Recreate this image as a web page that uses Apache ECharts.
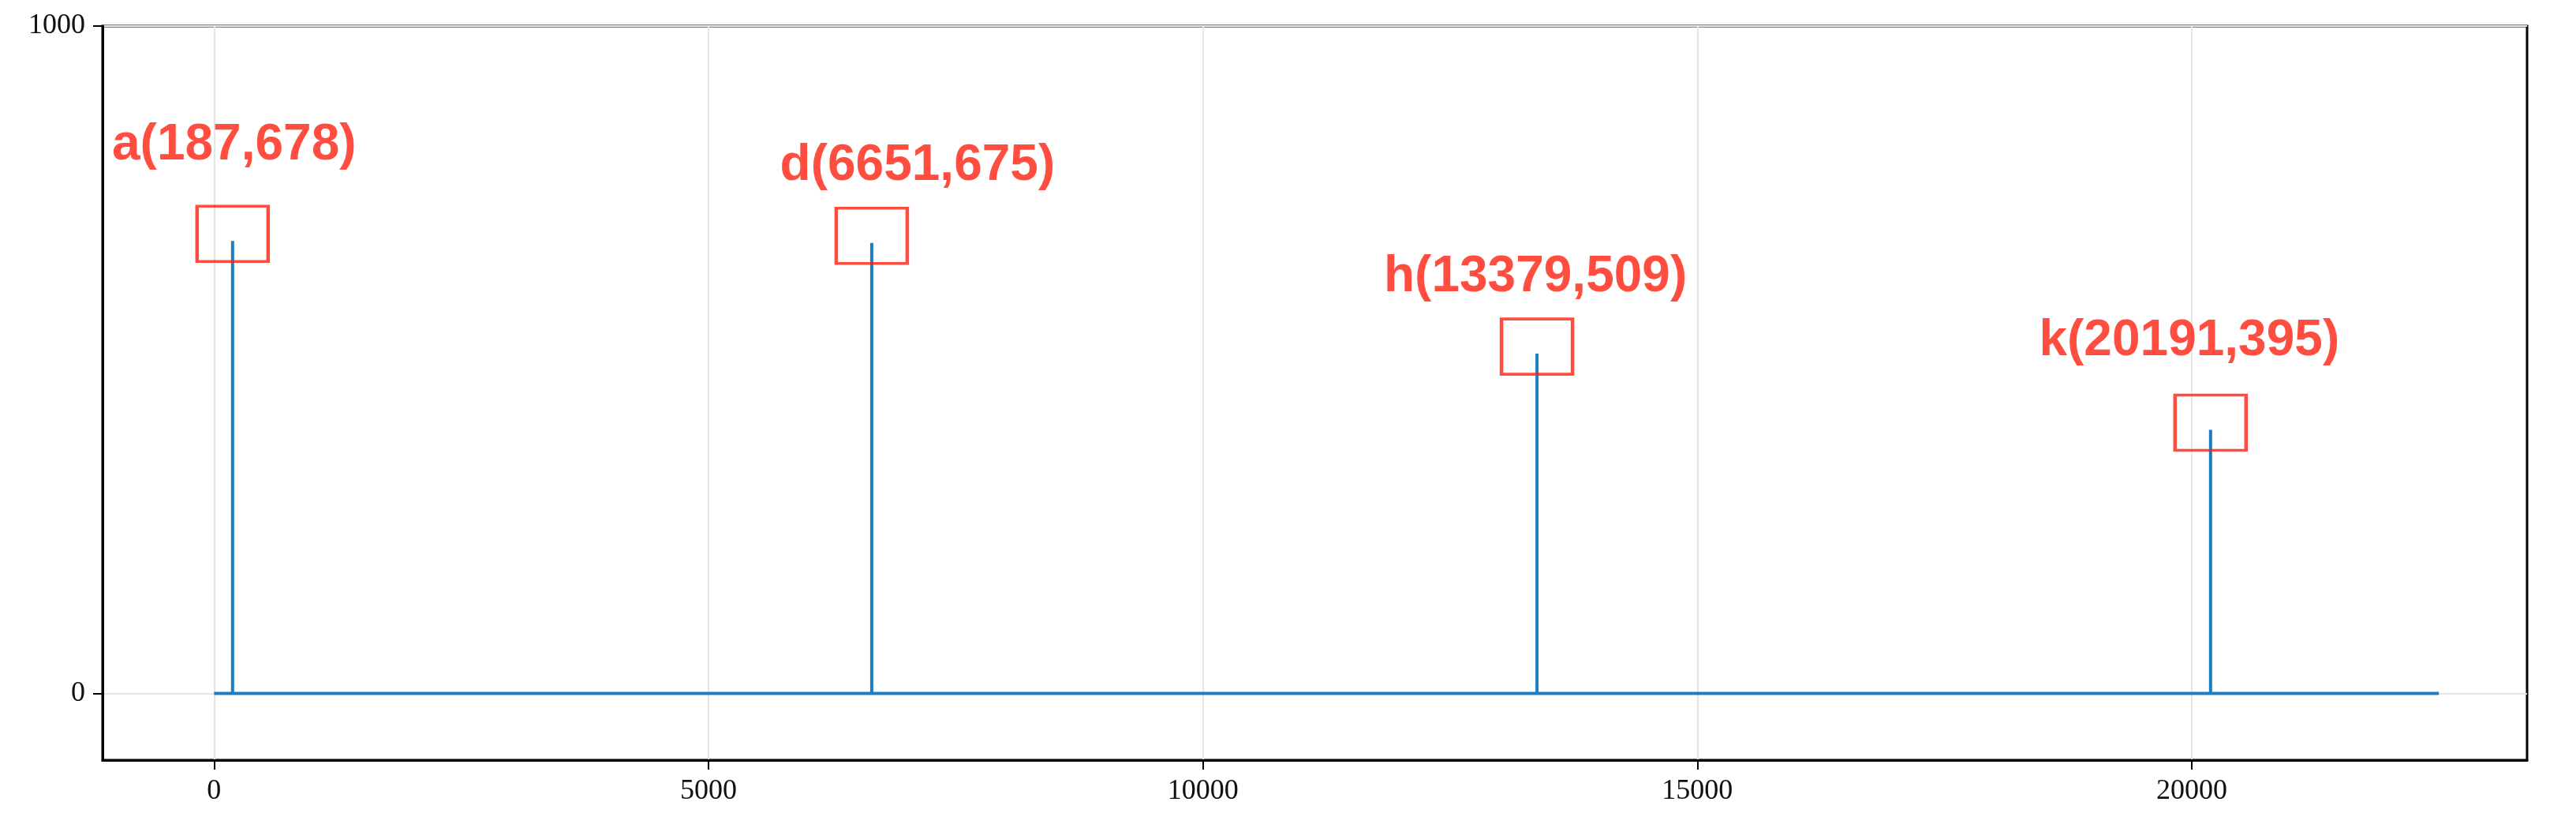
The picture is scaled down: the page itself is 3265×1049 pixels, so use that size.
<!DOCTYPE html><html><head><meta charset="utf-8">
<script src="https://cdn.jsdelivr.net/npm/echarts@6/dist/echarts.min.js"></script>
<style>html,body{margin:0;padding:0;background:#fff}#c{width:3265px;height:1049px}</style></head><body><div id="c"></div><script>
const peakNames = ['a','d','h','k'];
const peakX = [187, 6651, 13379, 20191];
const peakY = [678, 675, 509, 395];
const lineStart = 0, lineEnd = 22500;
const xTicks = [0, 5000, 10000, 15000, 20000];
const yTicks = [0, 1000];
const labelOffsets = [[2,-112],[58,-88],[-2,-88],[-27,-103]];

const lineData = [[lineStart,0]];
peakX.forEach((x,i)=>{ lineData.push([x,0],[x,peakY[i]],[x,0]); });
lineData.push([lineEnd,0]);

const chart = echarts.init(document.getElementById('c'));
const axisFont = {fontFamily:'Liberation Serif', fontSize:36, color:'#111', formatter:v=>String(v)};
chart.setOption({
  animation:false,
  grid:{left:130,right:62,top:33,bottom:86,show:true,borderColor:'#000',borderWidth:3,backgroundColor:'transparent'},
  xAxis:{type:'value',min:-1128,max:23392,
    axisLine:{onZero:false,lineStyle:{color:'#000',width:3}},
    axisTick:{show:true,customValues:xTicks,length:12,lineStyle:{color:'#000',width:2}},
    axisLabel:{customValues:xTicks,...axisFont,margin:22},
    splitLine:{show:true,lineStyle:{color:'#e6e6e6',width:2}}},
  yAxis:{type:'value',min:-100,max:1000,
    axisLine:{onZero:false,lineStyle:{color:'#000',width:3}},
    axisTick:{show:true,customValues:yTicks,length:12,lineStyle:{color:'#000',width:2}},
    axisLabel:{customValues:yTicks,...axisFont,margin:22},
    splitLine:{show:true,lineStyle:{color:'#e6e6e6',width:2}}},
  series:[
    {type:'line',data:lineData,showSymbol:false,lineStyle:{color:'#1a7fc1',width:4},z:3},
    {type:'scatter',z:4,
     data:peakX.map((x,i)=>({value:[x,peakY[i]],
       label:{show:true,formatter:peakNames[i]+'('+x+','+peakY[i]+')',offset:labelOffsets[i],position:'inside'}})),
     symbol:'rect',symbolSize:[90,70],symbolOffset:[0,-9],
     itemStyle:{color:'rgba(0,0,0,0)',borderColor:'#ff2010',borderWidth:4},
     label:{color:'#ff2010',fontFamily:'Liberation Sans',fontWeight:'bold',fontSize:64},
     emphasis:{disabled:true}}
  ]
});
</script></body></html>
